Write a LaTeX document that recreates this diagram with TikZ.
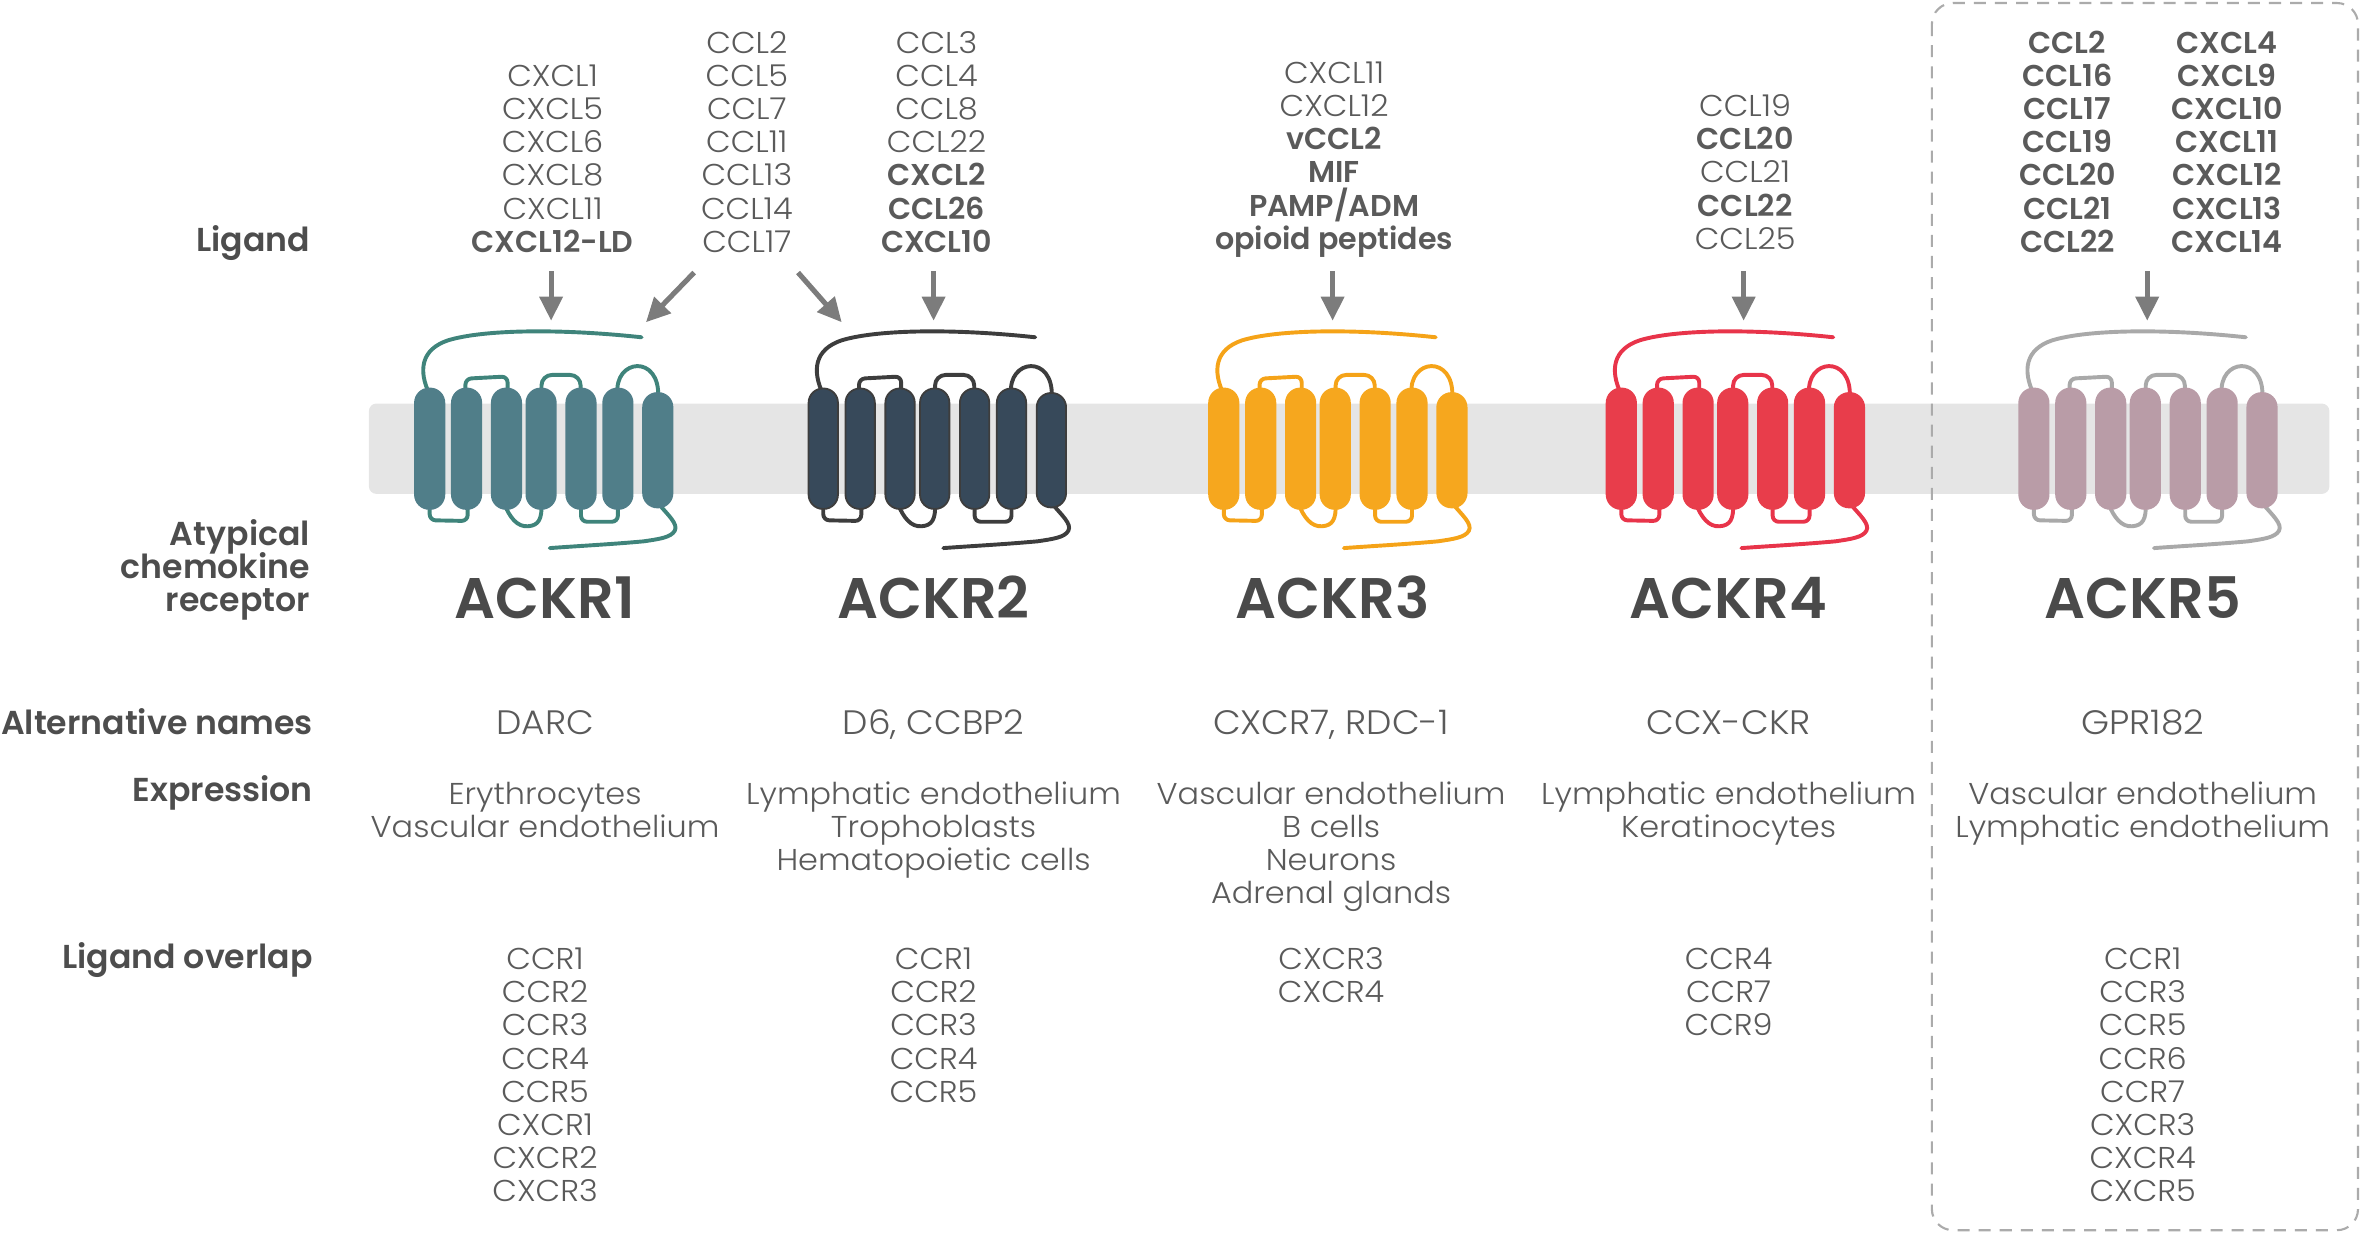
\documentclass[tikz,border=0pt]{standalone}
\usepackage{fontspec}
\setmainfont{Poppins Light}[UprightFeatures={FakeStretch=1.06}, BoldFont={Poppins SemiBold}]
\usetikzlibrary{arrows.meta}
\definecolor{txtc}{HTML}{5A5A5A}
\definecolor{labc}{HTML}{4D4D4D}
\definecolor{namec}{HTML}{4A4A4A}
\definecolor{memc}{HTML}{E5E5E5}
\definecolor{arrc}{HTML}{7C7C7C}
\definecolor{boxc}{HTML}{ABABAB}
\definecolor{r1f}{HTML}{507E89}
\definecolor{r1l}{HTML}{3F847B}
\definecolor{r2f}{HTML}{37495A}
\definecolor{r2l}{HTML}{3D3D3D}
\definecolor{r3f}{HTML}{F6A71E}
\definecolor{r3l}{HTML}{F5A318}
\definecolor{r4f}{HTML}{E83D4B}
\definecolor{r4l}{HTML}{E8344A}
\definecolor{r5f}{HTML}{B99CA7}
\definecolor{r5l}{HTML}{A9A9A9}
\newcommand{\drawreceptor}[4]{% #1 x0, #2 fill, #3 loop, #4 helix outline
\begin{scope}[shift={(#1,0)}]
 \begin{scope}[line width=2.6, line cap=round, line join=round, draw=#3]
  % N-terminus
  \draw (150.5,224) .. controls (95,218) and (45,219) .. (22,226) .. controls (4,232) and (2,246) .. (9.75,262);
  % ECL1
  \draw[rounded corners=4] (33.5,262) -- (33.5,251.5) -- (61.5,250) -- (61.5,262);
  % ECL2
  \draw[rounded corners=7] (84,262) -- (84,249) -- (110,249) -- (110,262);
  % ECL3
  \draw (134.5,262) .. controls (132,238) and (163,235) .. (161.5,264);
  % ICL1
  \draw[rounded corners=4] (9.75,334) -- (9.75,345.5) -- (35,346) -- (35,334);
  % ICL2
  \draw (59,334) .. controls (63,344) and (68,350) .. (75,349.5) .. controls (82,349) and (84.5,345) .. (84,334);
  % ICL3
  \draw[rounded corners=4] (110.25,334) -- (110.25,346.5) -- (134.75,346.5) -- (134.75,334);
  % C-terminus
  \draw (161.25,334) .. controls (168,342) and (175,348) .. (172.5,352.5) .. controls (170,357) and (162,358) .. (152,359.5) .. controls (130,361.5) and (110,362.5) .. (89.5,364);
 \end{scope}
 \foreach \L in {0,24.5,51,74,100.5,125}
   \draw[fill=#2, draw=#4, line width=1.2, rounded corners=9.5] (\L,258) rectangle ++(19.5,80);
 \draw[fill=#2, draw=#4, line width=1.2, rounded corners=9.5] (151.5,261) rectangle ++(19.5,76);
\end{scope}}
\begin{document}
\begin{tikzpicture}[x=1pt,y=-1pt,
  lig/.style={anchor=base, inner sep=0, text=txtc, font=\fontsize{20}{22}\selectfont},
  ligb/.style={lig, font=\bfseries\fontsize{20}{22}\selectfont},
  lab/.style={anchor=base east, inner sep=0, text=labc, font=\bfseries\fontsize{22}{22}\selectfont},
  rname/.style={anchor=base, inner sep=0, text=namec, font=\bfseries\fontsize{38}{44}\selectfont},
  alt/.style={anchor=base, inner sep=0, text=txtc, font=\fontsize{22.5}{24}\selectfont},
  ligarrow/.style={draw=arrc, line width=3.4, -{Triangle[length=16pt,width=15pt]}},
  membrane/.style={fill=memc, draw=none, rounded corners=5},
  dashbox/.style={draw=boxc, line width=1.4, dash pattern=on 8pt off 6pt, rounded corners=14}
]
\useasboundingbox (0,0) rectangle (1568,819);
% membrane
\fill[membrane] (245,268) rectangle (1547,328);
% receptors
\drawreceptor{275.6}{r1f}{r1l}{r1f}
\drawreceptor{537}{r2f}{r2l}{r2l}
\drawreceptor{803}{r3f}{r3l}{r3f}
\drawreceptor{1067}{r4f}{r4l}{r4f}
\drawreceptor{1341}{r5f}{r5l}{r5f}
% arrows
\coordinate (a1s) at (366,180); \coordinate (a1e) at (366,213);
\coordinate (a2s) at (461,181); \coordinate (a2e) at (429,214);
\coordinate (a3s) at (530,181); \coordinate (a3e) at (559,214);
\coordinate (a4s) at (620,180); \coordinate (a4e) at (620,213);
\coordinate (a5s) at (885,180); \coordinate (a5e) at (885,213);
\coordinate (a6s) at (1158,180); \coordinate (a6e) at (1158,213);
\coordinate (a7s) at (1426,180); \coordinate (a7e) at (1426,213);
\foreach \k in {1,...,7} \draw[ligarrow] (a\k s) -- (a\k e);
% left labels
\node[lab] (lLig) at (206,167) {Ligand};
\node[lab] (lAt1) at (206,362) {Atypical};
\node[lab] (lAt2) at (206,384) {chemokine};
\node[lab] (lAt3) at (206,406) {receptor};
\node[lab] (lAlt) at (208,488) {Alternative names};
\node[lab] (lExp) at (208,532) {Expression};
\node[lab] (lOvl) at (208,643) {Ligand overlap};
% ligand lists
\foreach \t [count=\i] in {CXCL1,CXCL5,CXCL6,CXCL8,CXCL11,\textbf{CXCL12-LD}}
  \node[lig] (lg1-\i) at (367,{35.5+22*\i}) {\t};
\foreach \t [count=\i] in {CCL2,CCL5,CCL7,CCL11,CCL13,CCL14,CCL17}
  \node[lig] (lg2-\i) at (496,{13.5+22*\i}) {\t};
\foreach \t [count=\i] in {CCL3,CCL4,CCL8,CCL22,\textbf{CXCL2},\textbf{CCL26},\textbf{CXCL10}}
  \node[lig] (lg3-\i) at (622,{13.5+22*\i}) {\t};
\foreach \t [count=\i] in {CXCL11,CXCL12,\textbf{vCCL2},\textbf{MIF},\textbf{PAMP/ADM},\textbf{opioid peptides}}
  \node[lig] (lg4-\i) at (886,{33.5+22*\i}) {\t};
\foreach \t [count=\i] in {CCL19,\textbf{CCL20},CCL21,\textbf{CCL22},CCL25}
  \node[lig] (lg5-\i) at (1159,{55.5+22*\i}) {\t};
\foreach \t [count=\i] in {CCL2,CCL16,CCL17,CCL19,CCL20,CCL21,CCL22}
  \node[ligb] (lg6-\i) at (1373,{13.5+22*\i}) {\t};
\foreach \t [count=\i] in {CXCL4,CXCL9,CXCL10,CXCL11,CXCL12,CXCL13,CXCL14}
  \node[ligb] (lg7-\i) at (1479,{13.5+22*\i}) {\t};
% receptor names
\node[rname] (n1) at (362,411) {ACKR1};
\node[rname] (n2) at (620,411) {ACKR2};
\node[rname] (n3) at (885,411) {ACKR3};
\node[rname] (n4) at (1148,411) {ACKR4};
\node[rname] (n5) at (1423,411) {ACKR5};
% alternative names
\node[alt] (al1) at (362,488) {DARC};
\node[alt] (al2) at (620,488) {D6, CCBP2};
\node[alt] (al3) at (884,488) {CXCR7, RDC-1};
\node[alt] (al4) at (1148,488) {CCX-CKR};
\node[alt] (al5) at (1423,488) {GPR182};
% expression
\foreach \t [count=\i] in {Erythrocytes,Vascular endothelium}
  \node[lig] (ex1-\i) at (362,{512+22*\i}) {\t};
\foreach \t [count=\i] in {Lymphatic endothelium,Trophoblasts,Hematopoietic cells}
  \node[lig] (ex2-\i) at (620,{512+22*\i}) {\t};
\foreach \t [count=\i] in {Vascular endothelium,B cells,Neurons,Adrenal glands}
  \node[lig] (ex3-\i) at (884,{512+22*\i}) {\t};
\foreach \t [count=\i] in {Lymphatic endothelium,Keratinocytes}
  \node[lig] (ex4-\i) at (1148,{512+22*\i}) {\t};
\foreach \t [count=\i] in {Vascular endothelium,Lymphatic endothelium}
  \node[lig] (ex5-\i) at (1423,{512+22*\i}) {\t};
% ligand overlap
\foreach \t [count=\i] in {CCR1,CCR2,CCR3,CCR4,CCR5,CXCR1,CXCR2,CXCR3}
  \node[lig] (ov1-\i) at (362,{622+22*\i}) {\t};
\foreach \t [count=\i] in {CCR1,CCR2,CCR3,CCR4,CCR5}
  \node[lig] (ov2-\i) at (620,{622+22*\i}) {\t};
\foreach \t [count=\i] in {CXCR3,CXCR4}
  \node[lig] (ov3-\i) at (884,{622+22*\i}) {\t};
\foreach \t [count=\i] in {CCR4,CCR7,CCR9}
  \node[lig] (ov4-\i) at (1148,{622+22*\i}) {\t};
\foreach \t [count=\i] in {CCR1,CCR3,CCR5,CCR6,CCR7,CXCR3,CXCR4,CXCR5}
  \node[lig] (ov5-\i) at (1423,{622+22*\i}) {\t};
% dashed box around ACKR5
\draw[dashbox] (1283,2) rectangle (1566,817);
\end{tikzpicture}
\end{document}
